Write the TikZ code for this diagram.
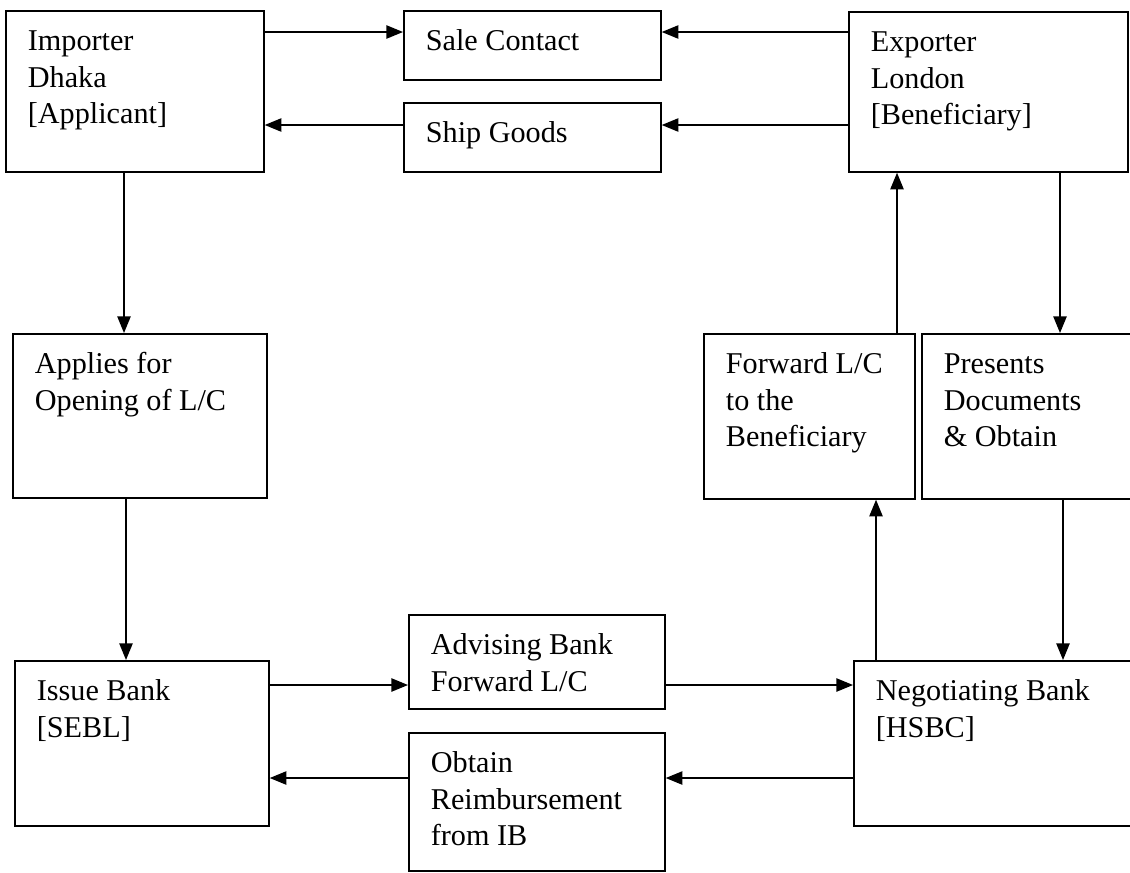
\documentclass[tikz,border=0pt]{standalone}
\usepackage{fontspec}
\setmainfont{Liberation Serif}
\usetikzlibrary{arrows.meta}

% text inside a box: top aligned, first baseline 30pt below the top
\newcommand{\boxtxt}[3]{\parbox[t][#2pt][t]{#1pt}{\rule{0pt}{30pt}#3}}

\tikzset{
    stage/.style={draw, line width=1.3pt, anchor=north west, inner xsep=16.5pt, inner ysep=0pt,
        font=\fontsize{22.65pt}{27.4pt}\selectfont},
    flow/.style={-{Triangle[length=12.5pt,width=10pt]}, line width=1.1pt}
}

\begin{document}
\begin{tikzpicture}[x=30pt,y=30pt]
        \useasboundingbox (0,0) rectangle (28.25,-21.8);

        % rows and columns of the connectors
        \coordinate (r1) at (0,-0.8);
        \coordinate (r2) at (0,-3.125);
        \coordinate (r3) at (0,-17.125);
        \coordinate (r4) at (0,-19.45);
        \coordinate (c1) at (3.1,0);
        \coordinate (c2) at (3.15,0);
        \coordinate (c3) at (21.9,0);
        \coordinate (c4) at (22.425,0);
        \coordinate (c5) at (26.5,0);
        \coordinate (c6) at (26.575,0);

        % top row
        \node[stage] (imp) at (0.125,-0.25) {\boxtxt{160.5}{120.75}{Importer\\Dhaka\\{}[Applicant]}};
        \node[stage] (sale) at (10.075,-0.25) {\boxtxt{159.75}{51.75}{Sale Contact}};
        \node[stage] (ship) at (10.075,-2.55) {\boxtxt{159.75}{51.75}{Ship Goods}};
        \node[stage] (exp) at (21.2,-0.275) {\boxtxt{176.25}{120}{Exporter\\London\\{}[Beneficiary]}};

        % middle row
        \node[stage] (appl) at (0.3,-8.325) {\boxtxt{157.5}{123}{Applies for\\Opening of L/C}};
        \node[stage] (fwd) at (17.575,-8.325) {\boxtxt{125.25}{123.75}{Forward L/C\\to the\\Beneficiary}};
        \node[stage] (pres) at (23.025,-8.325) {\boxtxt{126}{123.75}{Presents\\Documents\\\& Obtain}};

        % bottom row
        \node[stage] (iss) at (0.35,-16.5) {\boxtxt{157.5}{123.75}{Issue Bank\\{}[SEBL]}};
        \node[stage] (adv) at (10.2,-15.35) {\boxtxt{159}{70.5}{Advising Bank\\Forward L/C}};
        \node[stage] (obt) at (10.2,-18.3) {\boxtxt{159}{103.5}{Obtain\\Reimbursement\\from IB}};
        \node[stage] (neg) at (21.325,-16.5) {\boxtxt{177}{123.75}{Negotiating Bank\\{}[HSBC]}};

        % contract and goods
        \draw[flow] (imp.east |- r1) -- (sale.west |- r1);
        \draw[flow] (exp.west |- r1) -- (sale.east |- r1);
        \draw[flow] (exp.west |- r2) -- (ship.east |- r2);
        \draw[flow] (ship.west |- r2) -- (imp.east |- r2);

        % applicant side
        \draw[flow] (imp.south -| c1) -- (appl.north -| c1);
        \draw[flow] (appl.south -| c2) -- (iss.north -| c2);

        % banks
        \draw[flow] (iss.east |- r3) -- (adv.west |- r3);
        \draw[flow] (adv.east |- r3) -- (neg.west |- r3);
        \draw[flow] (neg.west |- r4) -- (obt.east |- r4);
        \draw[flow] (obt.west |- r4) -- (iss.east |- r4);

        % beneficiary side
        \draw[flow] (neg.north -| c3) -- (fwd.south -| c3);
        \draw[flow] (fwd.north -| c4) -- (exp.south -| c4);
        \draw[flow] (exp.south -| c5) -- (pres.north -| c5);
        \draw[flow] (pres.south -| c6) -- (neg.north -| c6);
\end{tikzpicture}
\end{document}
